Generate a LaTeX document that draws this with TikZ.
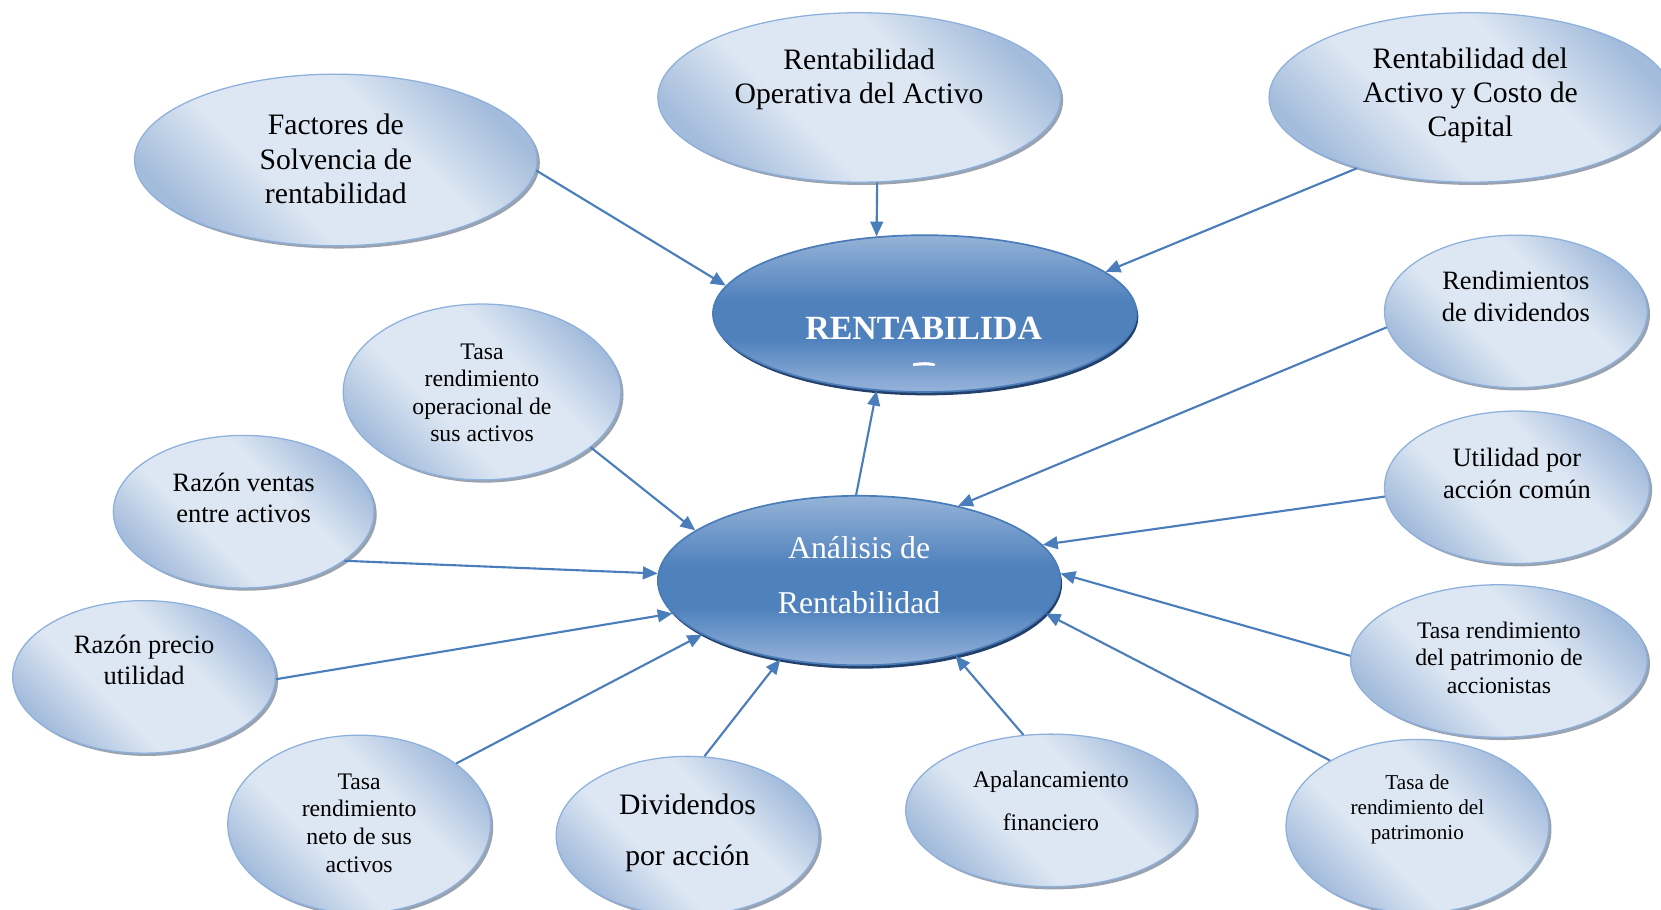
\documentclass[tikz,border=0pt]{standalone}
\usepackage{fontspec}
\setmainfont{Liberation Serif}
\usetikzlibrary{shapes.geometric,arrows.meta,shadows}

\definecolor{bublight}{HTML}{DDE7F3}
\definecolor{bubdark}{HTML}{A4BCDC}
\definecolor{bubedge}{HTML}{8DB0DC}
\definecolor{bubshadow}{HTML}{9AA2AE}
\definecolor{hubtop}{HTML}{95B3D7}
\definecolor{hubmid}{HTML}{4F81BD}
\definecolor{hubbot}{HTML}{98B4DA}
\definecolor{hubedge}{HTML}{4A7CBA}
\definecolor{hubshadow}{HTML}{23406A}
\definecolor{linkblue}{HTML}{4A7EBB}

% diagonal light band across the outer bubbles
\pgfdeclarehorizontalshading{bubbleshade}{100bp}{color(0bp)=(bubdark); color(25bp)=(bubdark); color(40bp)=(bublight); color(60bp)=(bublight); color(75bp)=(bubdark); color(100bp)=(bubdark)}
% glossy vertical band for the two central ellipses
\pgfdeclareverticalshading{hubshade}{100bp}{color(0bp)=(hubbot); color(25bp)=(hubbot); color(42bp)=(hubmid); color(54bp)=(hubmid); color(75bp)=(hubtop); color(100bp)=(hubtop)}

\tikzset{
  bubble/.style={ellipse, draw=bubedge, line width=0.6pt, shading=bubbleshade,
    shading angle=45, inner sep=0pt,
    drop shadow={shadow xshift=1.3pt, shadow yshift=-1.3pt, fill=bubshadow, opacity=1}},
  hub/.style={ellipse, draw=hubedge, line width=0.8pt, shading=hubshade, inner sep=0pt,
    drop shadow={shadow xshift=0.8pt, shadow yshift=-1.6pt, fill=hubshadow, opacity=1}},
  link/.style={draw=linkblue, line width=1pt, -{Triangle[length=7pt,width=6pt]}},
  lbl/.style={align=center, inner sep=0pt, text=black},
  fbig/.style={font=\fontsize{14}{16.2}\selectfont},
  fmid/.style={font=\fontsize{12.5}{15}\selectfont},
  fsmall/.style={font=\fontsize{11.2}{13}\selectfont},
}

\begin{document}
\begin{tikzpicture}[x=0.5pt, y=-0.5pt]
\clip (0,0) rectangle (1568,859);

% central ellipses
\node[hub, minimum width=200pt, minimum height=74pt] (ren) at (873,296) {};
\node[hub, minimum width=190pt, minimum height=80pt] (ana) at (811,548) {};

% outer bubbles
\node[bubble, minimum width=190pt, minimum height=81pt] (fac) at (317,151) {};
\node[bubble, minimum width=190pt, minimum height=80pt] (ope) at (811,92) {};
\node[bubble, minimum width=190pt, minimum height=80pt] (act) at (1388,92) {};
\node[bubble, minimum width=124pt, minimum height=72pt] (div) at (1431,294) {};
\node[bubble, minimum width=131pt, minimum height=83pt] (tro) at (455,370) {};
\node[bubble, minimum width=123pt, minimum height=72pt] (rve) at (230,483) {};
\node[bubble, minimum width=125pt, minimum height=72pt] (upa) at (1432,460) {};
\node[bubble, minimum width=124pt, minimum height=72pt] (rpu) at (136,639) {};
\node[bubble, minimum width=140pt, minimum height=72pt] (tpa) at (1415,624) {};
\node[bubble, minimum width=124pt, minimum height=84pt] (trn) at (339,778) {};
\node[bubble, minimum width=124pt, minimum height=75pt] (dpa) at (649,789) {};
\node[bubble, minimum width=137pt, minimum height=72pt] (apa) at (992,765) {};
\node[bubble, minimum width=124pt, minimum height=82pt] (tdp) at (1338,780) {};

% labels
\node[lbl, text=white, font=\fontsize{16}{18}\selectfont\bfseries] (ren-t) at (872,310) {RENTABILIDA};
\fill[white] (862,343) .. controls (870,341.5) and (878,341.5) .. (883,343.5)
  -- (882,345.5) .. controls (874,344.5) and (868,345) .. (862,345.5) -- cycle;
\node[lbl, text=white, font=\fontsize{15}{26}\selectfont] (ana-t) at (811,543) {Análisis de\\Rentabilidad};

\node[lbl, fbig] (fac-t) at (317,150) {Factores de\\Solvencia de\\rentabilidad};
\node[lbl, fbig] (ope-t) at (811,75) {Rentabilidad\\Operativa del Activo};
\node[lbl, fbig] (act-t) at (1388,90) {Rentabilidad del\\Activo y Costo de\\Capital};
\node[lbl, fmid] (div-t) at (1431,280) {Rendimientos\\de dividendos};
\node[lbl, fsmall] (tro-t) at (455,371) {Tasa\\rendimiento\\operacional de\\sus activos};
\node[lbl, fmid] (rve-t) at (230,470) {Razón ventas\\entre activos};
\node[lbl, fmid] (upa-t) at (1432,447) {Utilidad por\\acción común};
\node[lbl, fmid] (rpu-t) at (136,623) {Razón precio\\utilidad};
\node[lbl, fsmall] (tpa-t) at (1415,621) {Tasa rendimiento\\del patrimonio de\\accionistas};
\node[lbl, fsmall] (trn-t) at (339,777) {Tasa\\rendimiento\\neto de sus\\activos};
\node[lbl, font=\fontsize{14}{24}\selectfont] (dpa-t) at (649,786) {Dividendos\\por acción};
\node[lbl, font=\fontsize{11.2}{20}\selectfont] (apa-t) at (992,756) {Apalancamiento\\financiero};
\node[lbl, font=\fontsize{10}{11.7}\selectfont] (tdp-t) at (1338,764) {Tasa de\\rendimiento del\\patrimonio};

% connectors into RENTABILIDA
\draw[link] (fac.-3) -- (ren.172);
\draw[link] (ope.-78) -- (ren.122);
\draw[link] (act.-148) -- (ren.13);
\draw[link] (ana.92) -- (ren.-122);

% connectors into the analysis ellipse
\draw[link] (tro.-27) -- (ana.163);
\draw[link] (rve.-26) -- (ana.178);
\draw[link] (rpu.-1) -- (ana.-170);
\draw[link] (trn.32) -- (ana.-161);
\draw[link] (dpa.78) -- (ana.-135);
\draw[link] (apa.110) -- (ana.-38);
\draw[link] (tdp.143) -- (ana.-10);
\draw[link] (tpa.178) -- (ana.2);
\draw[link] (upa.-176) -- (ana.11);
\draw[link] (div.-173) -- (ana.37);
\end{tikzpicture}
\end{document}
